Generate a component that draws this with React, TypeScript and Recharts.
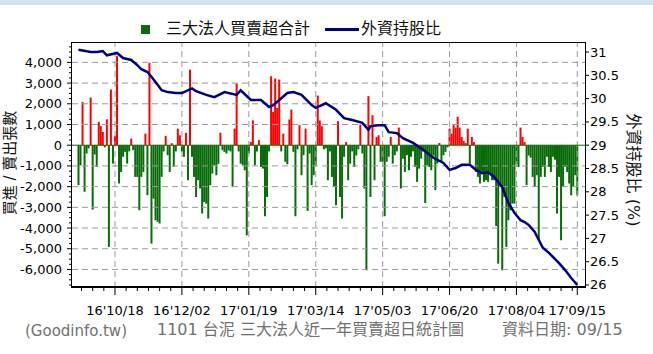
import React from 'react';
import { ComposedChart, Bar, Line, XAxis, YAxis, Cell, ReferenceLine } from 'recharts';

// series names (legend)
const seriesNames = ['三大法人買賣超合計', '外資持股比'];

// date tick labels and the trading-day index they sit on
const dateLabels = ["16'10/18", "16'12/02", "17'01/19", "17'03/14", "17'05/03", "17'06/20", "17'08/04", "17'09/15"];
const dateLabelDays = [18, 51, 84, 117, 150, 183, 216, 246];

// 三大法人買賣超 (張), one value per trading day
const netVolume = [
  -1930, -970, 2090, -2250, -400, -150, 2300, -3110, -450, -1050,
  1130, 920, 640, -100, 1250, -4910, 2690, -890, 450, 4300,
  -1850, -1290, -560, -320, -890, -300, 320, -240, -1530, -1530,
  -3140, -1530, -1290, 560, -2415, 3980, -4750, -2580, -3620, -3700,
  -3780, -1530, -300, 450, -480, -1290, 100, -1050, -300, 800,
  480, -300, -560, 600, -1690, 3650, -560, -1530, -2500, -1690,
  -2090, -3300, -2740, -2820, -3540, -1930, -1370, -970, -1450, -900,
  600, -240, -320, -400, -250, -300, -2010, 800, 2980, -300,
  -890, -970, -1210, -4350, -400, 160, 1200, -970, -300, 240,
  -1050, -1130, -3430, -2500, -300, 3330, 1610, 3220, 1800, 3170,
  -300, 560, -800, -920, 1240, 1720, -320, -3430, -200, 970,
  -1450, -480, 800, -3170, -400, -1930, -1450, -970, 2400, 1200,
  920, -200, -150, -1690, -300, -1530, -2010, -2900, 1160, -2500,
  -3540, -560, 150, -1690, -890, -300, -1050, -500, -200, 1000,
  -400, -2090, -6040, 2370, -2500, 1450, -1690, 400, 480, -800,
  -800, -3430, -800, -560, 400, -890, -480, -300, 850, -2090,
  -650, -1290, -480, -1210, -560, -300, -1050, -1770, -1130, -650,
  -300, -2790, -970, -1050, -1210, -500, -2170, -890, 110, -800,
  -480, -320, -100, 800, 560, 970, 850, 1370, 850, 400,
  200, 100, 800, -890, 400, 150, -1290, -1530, -1850, -1290,
  -1770, -1690, -1770, -1370, -1690, -1690, -3900, -5720, -2000, -6040,
  -2500, -4910, -3620, -3140, -2820, -2820, -900, -1050, 850, 400,
  150, -1930, -500, -600, -1530, -2010, -1450, -4590, -1530, -1050,
  -1530, -560, -1050, -1290, -560, -700, -3300, -1530, -4590, -2010,
  -1050, -1290, -1850, -2420, -2010, -1450, -2420,
];

// 外資持股比 (%), read at these trading days
const ratioDays = [
  0, 6, 9, 12, 14, 19, 22, 26, 29, 31, 34, 36, 39, 41, 44, 48, 51, 56, 58, 63,
  67, 72, 78, 80, 85, 90, 94, 96, 99, 103, 106, 110, 115, 117, 122, 127, 131, 135, 140, 143,
  144, 148, 151, 153, 157, 160, 165, 170, 175, 180, 183, 186, 189, 193, 196, 199, 202, 205, 209, 212,
  215, 218, 220, 222, 225, 229, 232, 237, 240, 243, 246,
];
const ratioValues = [
  31.05, 31.0, 31.0, 31.02, 30.93, 30.98, 30.87, 30.83, 30.72, 30.63, 30.57, 30.47, 30.3, 30.18, 30.14, 30.12, 30.12, 30.22, 30.16, 30.08,
  30.03, 30.14, 30.08, 30.18, 29.97, 29.97, 29.82, 29.86, 29.97, 30.12, 30.14, 30.08, 29.86, 29.8, 29.9, 29.76, 29.58, 29.54, 29.48, 29.33,
  29.41, 29.43, 29.43, 29.28, 29.26, 29.15, 29.05, 28.9, 28.73, 28.62, 28.47, 28.51, 28.58, 28.58, 28.47, 28.4, 28.42, 28.32, 28.1, 27.76,
  27.55, 27.39, 27.35, 27.29, 27.14, 26.8, 26.69, 26.47, 26.32, 26.15, 26.0,
];

const leftTicks = [-6000, -5000, -4000, -3000, -2000, -1000, 0, 1000, 2000, 3000, 4000];
const rightTicks = [26, 26.5, 27, 27.5, 28, 28.5, 29, 29.5, 30, 30.5, 31];

const rows = netVolume.map((v, d) => {
  const i = ratioDays.indexOf(d);
  return { d, net: v, ratio: i >= 0 ? ratioValues[i] : null };
});

// minor ticks: 6 steps between date labels, 4 between thousand marks
const xTicks: number[] = [];
for (let t = dateLabelDays[0] - 16.5; t <= 246.01; t += 5.5) xTicks.push(t);
dateLabelDays.forEach((t) => { if (!xTicks.includes(t)) xTicks.push(t); });
const leftAllTicks: number[] = [];
for (let t = -6750; t <= 4750; t += 250) leftAllTicks.push(t);

const tickFont = '"DejaVu Sans", sans-serif';
const cjkFont = '"DejaVu Sans", "Noto Sans CJK TC", sans-serif';
const GREEN = '#086b08';
const RED = '#ff0000';
const NAVY = '#00007f';

const XTick = (props: any) => {
  const { x, y, payload } = props;
  const idx = dateLabelDays.indexOf(payload.value);
  const major = idx >= 0;
  return (
    <g>
      <line x1={x} y1={y} x2={x} y2={y + (major ? 8 : 4)} stroke="#000" />
      {major && (
        <text x={x} y={y + 28} textAnchor="middle" fontSize={13} fontFamily={tickFont} fill="#000">
          {dateLabels[idx]}
        </text>
      )}
    </g>
  );
};

const LeftTick = (props: any) => {
  const { x, y, payload } = props;
  const major = payload.value % 1000 === 0;
  return (
    <g>
      <line x1={x - (major ? 5 : 3)} y1={y} x2={x} y2={y} stroke="#000" />
      {major && (
        <text x={x - 10} y={y + 4.5} textAnchor="end" fontSize={13} fontFamily={tickFont} fill="#000">
          {payload.value.toLocaleString('en-US')}
        </text>
      )}
    </g>
  );
};

const RightTick = (props: any) => {
  const { x, y, payload } = props;
  return (
    <g>
      <line x1={x} y1={y} x2={x + 4} y2={y} stroke="#000" />
      <text x={x + 5} y={y + 4.5} textAnchor="start" fontSize={13} fontFamily={tickFont} fill="#000">
        {payload.value}
      </text>
    </g>
  );
};

const App: React.FC = () => {
  return (
    <div style={{ position: 'absolute', left: 0, top: 0, width: 653, height: 354, background: '#fff', overflow: 'hidden' }}>
      <div style={{ position: 'absolute', left: 0, top: 0, width: 653, height: 5, background: '#d3e3e8' }} />
      <ComposedChart
        width={653}
        height={354}
        data={rows}
        margin={{ top: 42, right: 0, bottom: 37, left: 0 }}
      >
        <XAxis
          dataKey="d"
          type="number"
          domain={[-3.2, 249.8]}
          ticks={xTicks}
          interval={0}
          tick={<XTick />}
          tickLine={false}
          tickSize={0}
          tickMargin={0}
          axisLine={false}
          height={30}
          allowDataOverflow
        />
        <YAxis
          yAxisId="left"
          domain={[-6847, 4984]}
          ticks={leftAllTicks}
          interval={0}
          tick={<LeftTick />}
          tickLine={false}
          tickSize={0}
          tickMargin={0}
          axisLine={false}
          width={72}
          allowDataOverflow
        />
        <YAxis
          yAxisId="right"
          orientation="right"
          domain={[25.957, 31.215]}
          ticks={rightTicks}
          interval={0}
          tick={<RightTick />}
          tickLine={false}
          tickSize={0}
          tickMargin={0}
          axisLine={false}
          width={68}
          allowDataOverflow
        />
        {leftTicks.filter((t) => t !== 0).map((t) => (
          <ReferenceLine key={'h' + t} yAxisId="left" y={t} stroke="#9a9a9a" strokeDasharray="6 4" />
        ))}
        {dateLabelDays.map((t) => (
          <ReferenceLine key={'v' + t} yAxisId="left" x={t} stroke="#9a9a9a" strokeDasharray="6 4" />
        ))}
        <ReferenceLine yAxisId="left" y={0} stroke={GREEN} />
        <Bar yAxisId="left" dataKey="net" name={seriesNames[0]} barSize={2} isAnimationActive={false}>
          {rows.map((r) => (
            <Cell key={r.d} fill={r.net >= 0 ? RED : GREEN} />
          ))}
        </Bar>
        <Line
          yAxisId="right"
          dataKey="ratio"
          name={seriesNames[1]}
          type="linear"
          stroke={NAVY}
          strokeWidth={2.5}
          dot={false}
          connectNulls
          isAnimationActive={false}
        />
      </ComposedChart>

      {/* plot frame */}
      <div style={{ position: 'absolute', left: 71, top: 42, width: 515, height: 246, boxSizing: 'border-box', border: '1px solid #000', borderBottom: '2px solid #000', pointerEvents: 'none' }} />

      {/* legend */}
      <div style={{ position: 'absolute', left: 141, top: 25, width: 9, height: 9, background: GREEN }} />
      <div style={{ position: 'absolute', left: 166, top: 19, fontSize: 16, lineHeight: '20px', fontFamily: cjkFont, color: '#111', whiteSpace: 'nowrap' }}>
        {seriesNames[0]}
      </div>
      <div style={{ position: 'absolute', left: 325, top: 28, width: 34, height: 3, background: NAVY }} />
      <div style={{ position: 'absolute', left: 361, top: 19, fontSize: 16, lineHeight: '20px', fontFamily: cjkFont, color: '#111', whiteSpace: 'nowrap' }}>
        {seriesNames[1]}
      </div>

      {/* axis titles */}
      <div style={{ position: 'absolute', left: 10, top: 163, transform: 'translate(-50%, -50%) rotate(-90deg)', fontSize: 15, lineHeight: '17px', fontFamily: cjkFont, color: '#111', whiteSpace: 'nowrap' }}>
        買進 / 賣出張數
      </div>
      <div style={{ position: 'absolute', left: 633, top: 170, transform: 'translate(-50%, -50%) rotate(90deg)', fontSize: 16, lineHeight: '18px', fontFamily: cjkFont, color: '#111', whiteSpace: 'nowrap' }}>
        外資持股比 (%)
      </div>

      {/* footer */}
      <div style={{ position: 'absolute', left: 25, top: 321, fontSize: 15, lineHeight: '20px', fontFamily: cjkFont, color: '#707070', whiteSpace: 'nowrap' }}>
        (Goodinfo.tw)
      </div>
      <div style={{ position: 'absolute', left: 157, top: 320, fontSize: 16, lineHeight: '20px', fontFamily: cjkFont, color: '#707070', whiteSpace: 'nowrap' }}>
        1101 台泥 三大法人近一年買賣超日統計圖
      </div>
      <div style={{ position: 'absolute', left: 502, top: 320, fontSize: 16, lineHeight: '20px', fontFamily: cjkFont, color: '#707070', whiteSpace: 'nowrap' }}>
        資料日期: 09/15
      </div>
    </div>
  );
};

export default App;
